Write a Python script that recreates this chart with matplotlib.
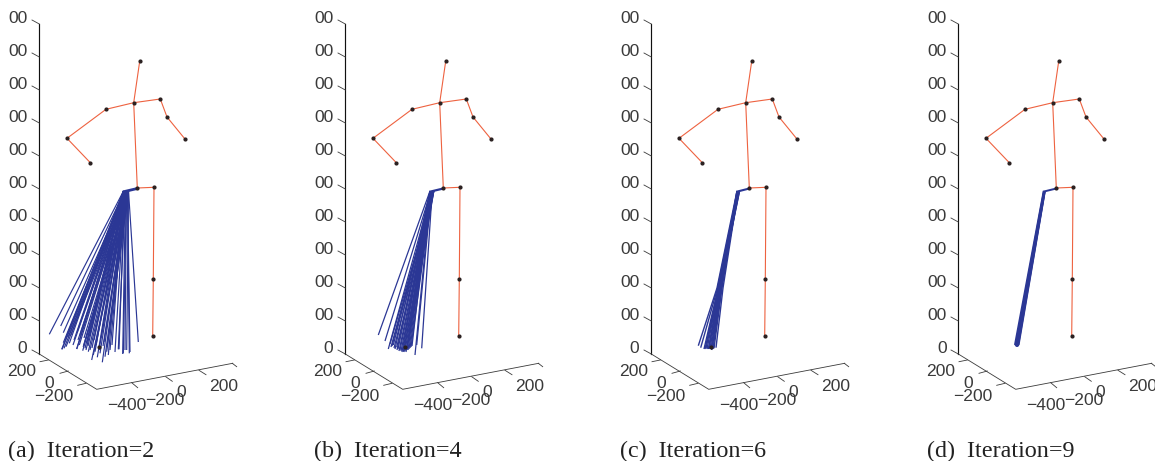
import matplotlib
matplotlib.use('Agg')
import matplotlib.pyplot as plt

W, H = 1155, 461
BLUE = '#2b3795'
RED = '#ee6240'
GREY = '#3a3a3a'

panel_x = [0, 306, 612, 919]
captions = ['(a)  Iteration=2', '(b)  Iteration=4', '(c)  Iteration=6', '(d)  Iteration=9']

joint_x = [139.7, 133.7, 106.0, 67.0, 90.3, 160.3, 167.0, 184.7, 137.3, 154.0, 153.3, 152.7]
joint_y = [61.3, 102.7, 109.3, 138.3, 162.7, 99.0, 117.0, 138.7, 188.0, 187.3, 279.3, 336.0]
bones = [(0, 1), (1, 2), (2, 3), (3, 4), (1, 5), (5, 6), (6, 7), (1, 8), (8, 9), (9, 10), (10, 11)]

hip_a_x = [123.5, 124.5, 125.5, 126.5, 127.5, 128.5]
hip_b_x = [124.0, 124.8, 125.5, 126.2, 127.0, 127.8]
hip_c_x = [125.0, 125.5, 126.0, 126.5, 127.0, 127.5]
hip_d_x = [124.8, 125.0, 125.2, 125.4, 125.6, 125.8]
hip_y = [191.0, 191.5, 191.8, 191.8, 191.5, 191.0]

foot_a_x = [49.3, 60.7, 63.3, 62.0, 64.0, 66.0, 69.3, 76.7, 77.3, 79.3, 82.7, 83.3, 85.0, 86.7, 88.3, 90.0,
            91.7, 93.3, 95.0, 97.3, 100.0, 102.3, 105.0, 106.7, 108.3, 119.0, 122.7, 125.0, 129.3, 138.3,
            61.7, 63.3, 65.7, 68.3, 76.7, 83.3, 86.0, 110.0, 118.3, 123.3, 130.0, 126.7, 71.0, 74.0, 80.0,
            73.0, 78.0, 84.0, 88.0, 92.0, 96.0, 99.0, 103.0, 107.0, 112.0, 115.0, 94.0, 90.0, 101.0, 104.0]
foot_a_y = [334.3, 326.0, 332.7, 349.3, 348.3, 346.7, 343.3, 349.0, 331.7, 345.0, 350.7, 346.7, 348.3, 343.3,
            351.7, 350.0, 360.0, 355.0, 351.7, 357.3, 353.3, 362.3, 356.7, 351.7, 355.0, 349.3, 354.0, 350.0,
            353.3, 342.0, 349.3, 342.7, 338.3, 336.7, 349.0, 346.7, 350.0, 350.0, 349.3, 353.3, 352.0, 350.0,
            335.0, 340.0, 335.0, 345.0, 340.0, 338.0, 346.0, 348.0, 345.0, 350.0, 346.0, 347.0, 345.0, 352.0,
            340.0, 335.0, 338.0, 342.0]

foot_b_x = [72.3, 79.0, 82.3, 87.3, 90.7, 97.3, 100.7, 109.0, 110.7, 115.7, 85.0, 88.0, 89.0, 91.0, 92.0, 93.0,
            94.0, 95.0, 96.0, 97.0, 98.0, 99.0, 100.0, 101.0, 102.0, 103.0, 104.0, 105.0, 86.0, 84.0, 106.0]
foot_b_y = [335.0, 341.0, 349.0, 345.0, 347.3, 351.7, 348.3, 355.0, 345.0, 348.3, 347.0, 348.0, 349.0, 350.0,
            349.0, 351.0, 350.0, 351.0, 352.0, 350.0, 352.0, 351.0, 352.0, 350.0, 350.0, 349.0, 348.0, 347.0,
            346.0, 344.0, 346.0]

foot_c_x = [86.3, 88.7, 92.0, 94.0, 96.3, 98.0, 99.7, 102.0, 104.0, 93.0, 95.0, 97.0, 99.0, 100.0, 101.0]
foot_c_y = [345.7, 347.7, 349.0, 348.3, 349.0, 348.7, 350.0, 348.3, 347.7, 349.0, 349.0, 349.0, 349.0, 349.0, 349.0]
knee_c_x = [105.0, 105.6, 106.2, 106.8, 107.4, 108.0, 108.6, 110.0, 111.0, 106.5, 107.0, 107.5, 108.0, 109.0, 109.5]
knee_c_y = [288.0] * 15

foot_d_x = [96.0, 96.8, 97.5, 98.2, 98.9, 99.5]
foot_d_y = [345.0, 346.0, 346.8, 346.8, 346.0, 345.0]

tick_y = [24, 57, 90, 123, 156, 189, 222, 255, 288, 321, 354]
tick_text = ['00'] * 10 + ['0']

corner_x = [39.3, 96.7, 232.7]
corner_y = [354.0, 389.3, 363.3]
base_tick_x0 = [40.0, 60.0, 77.7, 131.7, 165.7, 199.0, 232.3]
base_tick_y0 = [361.7, 373.3, 385.3, 382.7, 376.7, 370.3, 363.3]
base_tick_x1 = [48.3, 68.3, 86.0, 137.7, 172.3, 206.0, 236.7]
base_tick_y1 = [360.0, 371.0, 383.3, 387.7, 381.3, 374.7, 366.7]
base_text = ['200', '0', '\u2212200', '\u2212400', '\u2212200', '0', '200']
base_text_x = [21.7, 49.3, 54.0, 126.7, 165.0, 180.7, 224.0]
base_text_y = [371.7, 383.3, 396.0, 405.7, 400.0, 392.7, 386.7]

fan_lw = [0.85, 0.9, 1.0, 1.5]
hip_bone_lw = [2.0, 1.6, 1.5, 1.4]


def draw_fan(ax, hips_x, feet_x, feet_y, knees_x, knees_y, lw, bone_lw):
    for i in range(len(feet_x)):
        hx = hips_x[i % len(hips_x)]
        hy = hip_y[i % len(hip_y)]
        xs = [hx]
        ys = [hy]
        if knees_x:
            xs.append(knees_x[i])
            ys.append(knees_y[i])
        xs.append(feet_x[i])
        ys.append(feet_y[i])
        ax.plot(xs, ys, color=BLUE, lw=lw, solid_capstyle='butt', zorder=3)
    # the pelvis-hip bone is much the same in all of them
    ax.plot([joint_x[8], hips_x[1]], [joint_y[8] + 0.5, hip_y[1]], color=BLUE, lw=bone_lw, zorder=3)


fig = plt.figure(figsize=(W / 100, H / 100), dpi=100)
fig.patch.set_facecolor('white')

fans = [(hip_a_x, foot_a_x, foot_a_y, None, None),
        (hip_b_x, foot_b_x, foot_b_y, None, None),
        (hip_c_x, foot_c_x, foot_c_y, knee_c_x, knee_c_y),
        (hip_d_x, foot_d_x, foot_d_y, None, None)]

for n in range(4):
    ax = fig.add_axes([panel_x[n] / W, 0, 236 / W if n == 3 else 306 / W, 1])
    ax.set_xlim(0, 236 if n == 3 else 306)
    ax.set_ylim(H, 0)
    ax.axis('off')

    # box
    ax.plot([39.3, 39.3], [24, 354], color='#111111', lw=0.85, zorder=1)
    ax.plot(corner_x, corner_y, color=GREY, lw=0.6, zorder=1)
    for y, label in zip(tick_y, tick_text):
        ax.plot([32, 39.3], [y - 4, y], color=GREY, lw=0.6, zorder=1)
        ax.text(27.5, y - 5.5, label, ha='right', va='center', fontsize=12.6, color=GREY,
                family='Liberation Sans', clip_on=False)
    for i in range(len(base_text)):
        ax.plot([base_tick_x0[i], base_tick_x1[i]], [base_tick_y0[i], base_tick_y1[i]], color=GREY, lw=0.6, zorder=1)
        ax.text(base_text_x[i], base_text_y[i], base_text[i], ha='center', va='center', fontsize=12.6,
                color=GREY, family='Liberation Sans', clip_on=False)

    # red skeleton and the joints
    for a, b in bones:
        ax.plot([joint_x[a], joint_x[b]], [joint_y[a], joint_y[b]], color=RED, lw=0.8, zorder=2)
    ax.plot(joint_x, joint_y, ls='none', marker='o', ms=2.0, color='#2a2020', zorder=4)

    hx, fx, fy, kx, ky = fans[n]
    draw_fan(ax, hx, fx, fy, kx, ky, fan_lw[n], hip_bone_lw[n])
    if n < 3:
        ax.plot(98.7, 347.3, ls='none', marker='o', ms=2.0, color='#2a2020', zorder=4)

    ax.text(8, 451, captions[n], ha='left', va='center', fontsize=17.4, color='#222222',
            family='Liberation Serif', clip_on=False)

fig.savefig('out.png', dpi=100)
